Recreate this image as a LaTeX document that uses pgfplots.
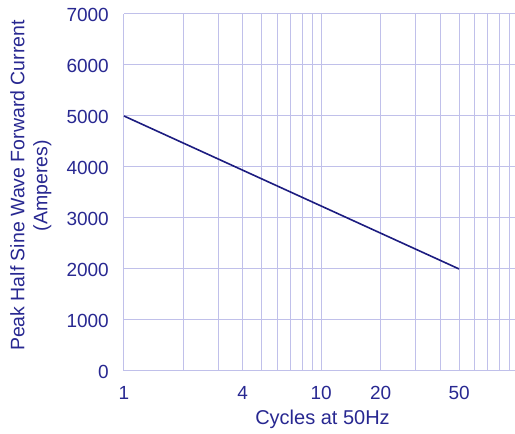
\documentclass[border=0pt]{standalone}
\usepackage{pgfplots}
\pgfplotsset{compat=1.18}
\usepackage{fontspec}
\setmainfont{Liberation Sans}
\definecolor{txtblue}{RGB}{40,40,145}
\definecolor{lineblue}{RGB}{28,28,128}
\definecolor{gridblue}{RGB}{192,192,234}
\begin{document}
\begin{tikzpicture}
\begin{axis}[
  scale only axis,
  width=391pt, height=357pt,
  xmode=log,
  xmin=1, xmax=96,
  ymin=0, ymax=7000,
  xtick={1,4,10,20,50},
  xticklabels={1,4,10,20,50},
  minor xtick={2,3,5,6,7,8,9,30,40,60,70,80,90},
  ytick={0,1000,...,7000},
  yticklabels={0,1000,2000,3000,4000,5000,6000,7000},
  scaled y ticks=false,
  grid=both,
  major grid style={gridblue, line width=1pt},
  minor grid style={gridblue, line width=1pt},
  axis x line*=bottom,
  axis y line*=left,
  axis line style={gridblue, line width=1pt, -},
  major tick length=0pt,
  minor tick length=0pt,
  tick label style={font=\fontsize{19}{21}\selectfont, text=txtblue, inner sep=0pt},
  xticklabel style={anchor=north, yshift=-15.5pt},
  yticklabel style={anchor=east, xshift=-15pt, yshift=-1pt},
  xlabel={Cycles at 50Hz},
  xlabel style={font=\fontsize{20}{22}\selectfont, text=txtblue, inner sep=0pt,
    at={(axis description cs:0.5,0)}, anchor=base, yshift=-54pt, xshift=3pt},
  ylabel={Peak Half Sine Wave Forward Current\\(Amperes)},
  ylabel style={font=\fontsize{19.5}{23}\selectfont, text=txtblue, align=center, inner sep=0pt,
    at={(axis description cs:0,0.5)}, anchor=south, yshift=72.5pt, xshift=7pt},
  clip=false,
]
\addplot[lineblue, line width=1.6pt] coordinates {(1,5000) (50,2000)};
\coordinate (o) at (rel axis cs:0,0);
\coordinate (t) at (rel axis cs:1,1);
\end{axis}
\path (o) ++(-124pt,-63pt) coordinate (bl);
\path (t) ++(0pt,14pt) coordinate (tr);
\pgfresetboundingbox
\path (bl) rectangle (tr);
\end{tikzpicture}
\end{document}
